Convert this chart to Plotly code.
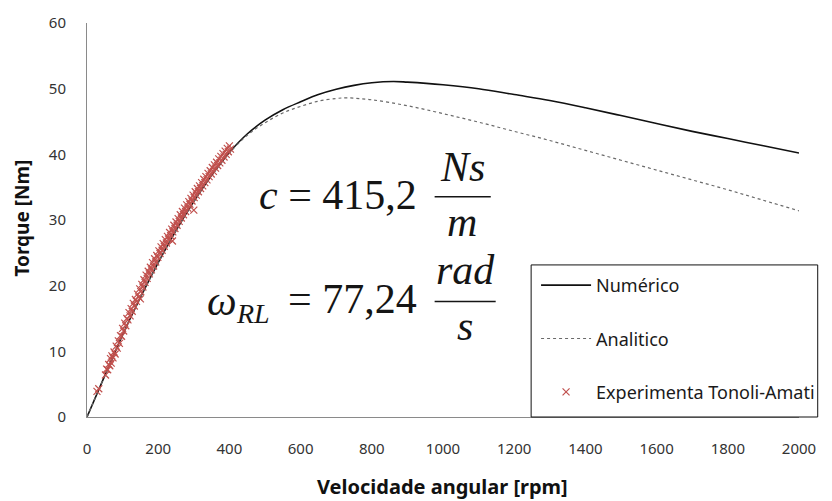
import plotly.graph_objects as go

# ---------------- data ----------------
num_rpm = [0, 50, 100, 150, 200, 250, 300, 350, 400, 450, 500, 550, 600, 650, 700, 750, 800, 860,
           900, 1000, 1100, 1200, 1300, 1400, 1500, 1600, 1700, 1800, 1900, 2000]
num_torque = [0, 6.3, 12.5, 18.2, 23.5, 28.4, 32.8, 36.8, 40.3, 43.1, 45.2, 46.8, 48.0, 49.1, 49.9,
              50.5, 50.9, 51.1, 51.0, 50.6, 50.0, 49.1, 48.2, 47.1, 45.9, 44.7, 43.5, 42.4, 41.3, 40.2]

ana_rpm = [0, 50, 100, 150, 200, 250, 300, 350, 400, 450, 500, 550, 600, 650, 700, 730, 800, 900,
           1000, 1100, 1200, 1300, 1400, 1500, 1600, 1700, 1800, 1900, 2000]
ana_torque = [0, 6.3, 12.5, 18.2, 23.5, 28.4, 32.8, 36.8, 40.2, 42.9, 44.8, 46.3, 47.3, 48.1, 48.5,
              48.6, 48.3, 47.4, 46.2, 44.9, 43.5, 42.1, 40.6, 39.1, 37.6, 36.1, 34.6, 33.0, 31.4]

exp_rpm = [28, 33, 52, 55, 58, 61, 64, 66, 68, 70, 73, 76, 79, 82, 85, 88, 91, 94, 97, 100,
           103, 106, 109, 112, 115, 118, 121, 124, 127, 130, 133, 136, 139, 142, 145, 148, 150, 151,
           154, 157, 160, 163, 166, 169, 172, 175, 178, 181, 184, 187, 190, 193, 196, 199, 202,
           205, 208, 211, 214, 217, 220, 223, 226, 229, 232, 235, 238, 240, 241, 244, 247, 250,
           253, 256, 259, 262, 265, 268, 271, 274, 277, 280, 283, 286, 289, 292, 295, 298, 300,
           301, 304, 307, 310, 313, 316, 319, 322, 325, 328, 331, 334, 337, 340, 343, 346, 349,
           352, 355, 358, 361, 364, 367, 370, 373, 376, 379, 382, 385, 388, 391, 394, 397, 400, 403]
exp_torque = [3.9, 4.3, 6.4, 7.3, 7.2, 8.0, 7.8, 8.9, 8.2, 9.3, 9.0, 9.9, 9.6, 10.8, 10.5, 11.6,
              11.2, 12.4, 12.3, 13.5, 13.1, 14.3, 13.9, 15.0, 14.8, 15.9, 15.4, 16.5, 16.1, 17.3,
              16.9, 17.9, 17.6, 18.7, 18.3, 19.5, 18.0, 19.1, 20.2, 19.8, 20.9, 20.5, 21.6, 21.1,
              22.2, 21.8, 22.8, 22.4, 23.5, 23.0, 24.1, 23.6, 24.6, 24.3, 25.3, 24.9, 25.9, 25.4,
              26.4, 26.0, 27.0, 26.5, 27.5, 27.1, 28.1, 27.6, 28.6, 26.8, 28.2, 29.2, 28.7, 29.7,
              29.2, 30.2, 29.8, 30.8, 30.3, 31.3, 30.8, 31.8, 31.3, 32.3, 31.8, 32.8, 32.4, 33.3,
              32.9, 33.8, 31.5, 33.4, 34.3, 33.8, 34.8, 34.3, 35.2, 34.8, 35.7, 35.2, 36.2, 35.7,
              36.6, 36.1, 37.1, 36.6, 37.5, 37.0, 38.0, 37.4, 38.4, 37.9, 38.8, 38.3, 39.3, 38.7,
              39.7, 39.1, 40.1, 39.6, 40.5, 40.0, 40.9, 40.4, 41.3, 40.8]

x_ticks = [0, 200, 400, 600, 800, 1000, 1200, 1400, 1600, 1800, 2000]
y_ticks = [0, 10, 20, 30, 40, 50, 60]

# ---------------- layout helpers ----------------
W, H = 832, 501
ML, MR, MT, MB = 87, 22, 18, 84
PW, PH = W - ML - MR, H - MT - MB


def px(xp):
    return (xp - ML) / PW


def py(yp):
    return (H - MB - yp) / PH


fig = go.Figure()
fig.add_trace(go.Scatter(x=num_rpm, y=num_torque, mode="lines", name="Numérico",
                         line=dict(color="#111111", width=1.6, shape="spline"),
                         legendgroup="a"))
fig.add_trace(go.Scatter(x=ana_rpm, y=ana_torque, mode="lines", name="Analitico",
                         line=dict(color="#6a6a6a", width=1.2, dash="dot", shape="spline"),
                         legendgroup="b"))
fig.add_trace(go.Scatter(x=exp_rpm, y=exp_torque, mode="markers", name="Experimenta Tonoli-Amati",
                         marker=dict(symbol="x-thin-open", size=7, color="#C0504D",
                                     line=dict(color="#C0504D", width=1.2)),
                         legendgroup="c"))

axis_font = dict(family="Noto Sans", size=15, color="#333333")
fig.update_xaxes(range=[0, 2000], tickvals=x_ticks, showgrid=False, zeroline=False,
                 showline=True, linecolor="#8a8a8a", linewidth=1, ticks="",
                 tickfont=axis_font, ticklabelstandoff=18)
fig.update_yaxes(range=[0, 60], tickvals=y_ticks, showgrid=False, zeroline=False,
                 showline=True, linecolor="#8a8a8a", linewidth=1, ticks="",
                 tickfont=axis_font, ticklabelstandoff=17)

serif = "Liberation Serif"
ink = "#151515"
ann = []
# axis titles
ann.append(dict(text="<b>Velocidade angular [rpm]</b>", x=px(448), y=py(487), xref="paper",
                yref="paper", showarrow=False, xanchor="center", yanchor="middle",
                font=dict(family="Noto Sans", size=20, color="#111111")))
ann.append(dict(text="<b>Torque [Nm]</b>", x=px(21), y=py(216), xref="paper", yref="paper",
                showarrow=False, xanchor="center", yanchor="middle", textangle=-90,
                font=dict(family="Noto Sans", size=19, color="#111111")))
# formula 1
ann.append(dict(text="<i>c</i> = 415,2", x=px(424), y=py(192), xref="paper", yref="paper",
                showarrow=False, xanchor="right", yanchor="middle",
                font=dict(family=serif, size=42, color=ink)))
ann.append(dict(text="<i>Ns</i>", x=px(468), y=py(164), xref="paper", yref="paper",
                showarrow=False, xanchor="center", yanchor="middle",
                font=dict(family=serif, size=42, color=ink)))
ann.append(dict(text="<i>m</i>", x=px(468), y=py(220), xref="paper", yref="paper",
                showarrow=False, xanchor="center", yanchor="middle",
                font=dict(family=serif, size=42, color=ink)))
# formula 2
ann.append(dict(text="<i>ω</i>", x=px(224), y=py(300), xref="paper", yref="paper",
                showarrow=False, xanchor="center", yanchor="middle",
                font=dict(family=serif, size=42, color=ink)))
ann.append(dict(text="<i>RL</i>", x=px(256), y=py(312), xref="paper", yref="paper",
                showarrow=False, xanchor="center", yanchor="middle",
                font=dict(family=serif, size=28, color=ink)))
ann.append(dict(text="= 77,24", x=px(424), y=py(298), xref="paper", yref="paper",
                showarrow=False, xanchor="right", yanchor="middle",
                font=dict(family=serif, size=42, color=ink)))
ann.append(dict(text="<i>rad</i>", x=px(471), y=py(268), xref="paper", yref="paper",
                showarrow=False, xanchor="center", yanchor="middle",
                font=dict(family=serif, size=42, color=ink)))
ann.append(dict(text="<i>s</i>", x=px(471), y=py(325), xref="paper", yref="paper",
                showarrow=False, xanchor="center", yanchor="middle",
                font=dict(family=serif, size=42, color=ink)))

shapes = [
    dict(type="line", xref="paper", yref="paper", x0=px(440), x1=px(497), y0=py(194), y1=py(194),
         line=dict(color=ink, width=1.6)),
    dict(type="line", xref="paper", yref="paper", x0=px(440), x1=px(502), y0=py(300), y1=py(300),
         line=dict(color=ink, width=1.6)),
    # legend frame
    dict(type="rect", xref="paper", yref="paper", x0=px(538), x1=px(829), y0=py(417), y1=py(263),
         line=dict(color="#111111", width=1), fillcolor="white", layer="above"),
]

fig.update_layout(
    width=W, height=H, margin=dict(l=ML, r=MR, t=MT, b=MB, pad=0),
    paper_bgcolor="white", plot_bgcolor="white",
    annotations=ann, shapes=shapes,
    legend=dict(x=px(543), xanchor="left", y=py(265), yanchor="top",
                bgcolor="rgba(0,0,0,0)", borderwidth=0,
                font=dict(family="Noto Sans", size=18, color="#1a1a1a"),
                tracegroupgap=27, itemwidth=50),
    showlegend=True,
)

fig.write_html("out.html")
